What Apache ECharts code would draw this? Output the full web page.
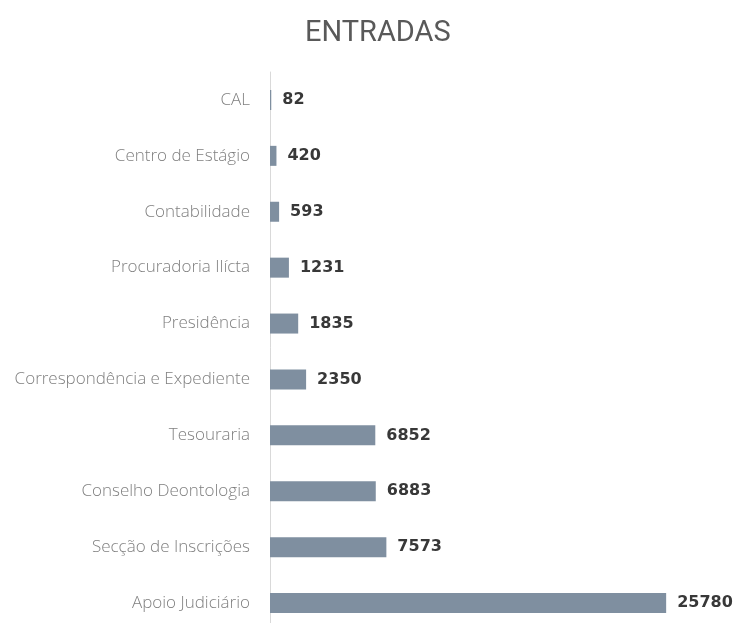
<!DOCTYPE html>
<html>
<head>
<meta charset="utf-8">
<script src="https://cdn.jsdelivr.net/npm/echarts@6/dist/echarts.min.js"></script>
<style>
  html, body { margin: 0; padding: 0; background: #fff; }
  #chart { width: 734px; height: 623px; }
</style>
</head>
<body>
<div id="chart"></div>
<script>
// categorias, de cima para baixo
const categories = [
  'CAL',
  'Centro de Estágio',
  'Contabilidade',
  'Procuradoria Ilícta',
  'Presidência',
  'Correspondência e Expediente',
  'Tesouraria',
  'Conselho Deontologia',
  'Secção de Inscrições',
  'Apoio Judiciário'
];
const entradas = [82, 420, 593, 1231, 1835, 2350, 6852, 6883, 7573, 25780];

const chart = echarts.init(document.getElementById('chart'));
chart.setOption({
  animation: false,
  title: {
    text: 'ENTRADAS',
    left: 300,
    top: 14,
    textStyle: { fontFamily: 'Roboto', fontWeight: 'normal', fontSize: 29, color: '#595959' }
  },
  grid: { left: 270, right: 3, top: 72, height: 559, outerBoundsMode: 'none' },
  xAxis: {
    type: 'value',
    min: 0,
    max: 30000,
    show: false
  },
  yAxis: {
    type: 'category',
    inverse: true,
    data: categories,
    axisLine: { lineStyle: { color: '#d9d9d9', width: 1 } },
    axisTick: { show: false },
    axisLabel: {
      margin: 20,
      fontFamily: 'Open Sans',
      fontWeight: 300,
      fontSize: 17,
      color: '#808080'
    }
  },
  series: [{
    name: 'Entradas',
    type: 'bar',
    data: entradas,
    barWidth: 20,
    itemStyle: { color: '#7f8fa0' },
    label: {
      show: true,
      position: 'right',
      distance: 11,
      fontFamily: 'DejaVu Sans',
      fontWeight: 'bold',
      fontSize: 16,
      color: '#383838'
    }
  }]
});
</script>
</body>
</html>
